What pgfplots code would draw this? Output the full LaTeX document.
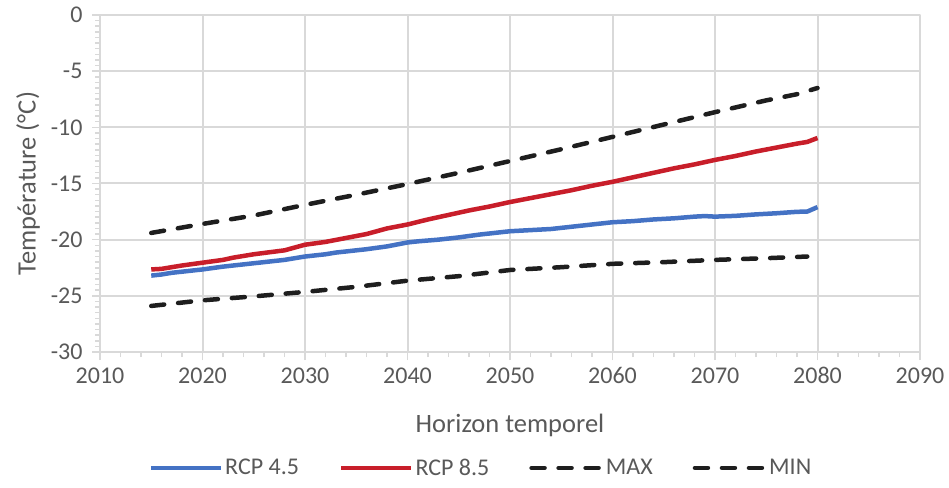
\documentclass[border=0pt]{standalone}
\usepackage{pgfplots}
\pgfplotsset{compat=1.18}
\usepackage{fontspec}
\setmainfont{Carlito}
\definecolor{txtgray}{RGB}{89,89,89}
\definecolor{gridgray}{RGB}{217,217,217}
\definecolor{rcpblue}{RGB}{68,114,196}
\definecolor{rcpred}{RGB}{200,30,42}
\definecolor{blk}{RGB}{30,30,30}

\begin{document}
\begin{tikzpicture}
  \path[use as bounding box] (0,0) rectangle (949pt,487pt);
  \begin{axis}[
      at={(100pt,135pt)}, anchor=south west,
      width=820pt, height=337pt, scale only axis,
      xmin=2010, xmax=2090, ymin=-30, ymax=0,
      xtick distance=10, ytick distance=5,
      minor x tick num=4, minor y tick num=9,
      tick align=outside,
      major tick length=8pt, minor tick length=5pt,
      every tick/.style={gridgray, line width=1.5pt},
      xtick pos=bottom, ytick pos=left,
      grid=major,
      major grid style={gridgray, line width=2pt},
      axis line style={gridgray, line width=2pt},
      /pgf/number format/assume math mode=true,
      /pgf/number format/1000 sep={},
      ticklabel style={font=\fontsize{24}{28}\selectfont, text=txtgray},
      xticklabel style={yshift=-4pt},
      yticklabel style={xshift=-6pt},
      xlabel={Horizon temporel},
      ylabel={Température (°C)},
      label style={font=\fontsize{26.5}{30}\selectfont, text=txtgray},
      xlabel style={at={(axis description cs:0.5,-0.2166)}, anchor=center},
      ylabel style={at={(axis description cs:-0.0878,0.5)}, anchor=center},
      legend columns=4,
      legend style={at={(axis description cs:0.4646,-0.344)}, anchor=center,
        draw=none, fill=none,
        font=\fontsize{24}{28}\selectfont, text=txtgray,
        /tikz/every even column/.append style={column sep=38pt}},
      legend image code/.code={\draw[#1] (0pt,0pt) -- (70pt,0pt);},
      line join=round,
    ]
    \addplot[rcpblue, line width=4.5pt] coordinates {
      (2015,-23.2) (2016,-23.1) (2017,-22.95) (2018,-22.85) (2019,-22.75)
      (2020,-22.65) (2022,-22.4) (2024,-22.2) (2026,-22.0) (2028,-21.8)
      (2030,-21.5) (2032,-21.3) (2033,-21.15) (2035,-20.95) (2036,-20.85)
      (2038,-20.6) (2040,-20.25) (2041,-20.15) (2043,-20.0) (2045,-19.8)
      (2047,-19.55) (2050,-19.25) (2052,-19.15) (2054,-19.05) (2056,-18.85)
      (2058,-18.65) (2060,-18.45) (2062,-18.35) (2064,-18.2) (2066,-18.1)
      (2068,-17.95) (2069,-17.9) (2070,-17.95) (2072,-17.88) (2074,-17.75)
      (2076,-17.65) (2078,-17.52) (2079,-17.5) (2080,-17.1)
    };
    \addlegendentry{RCP 4.5}
    \addplot[rcpred, line width=4.5pt] coordinates {
      (2015,-22.65) (2016,-22.6) (2017,-22.45) (2018,-22.3) (2020,-22.05)
      (2022,-21.8) (2023,-21.6) (2025,-21.3) (2028,-20.95) (2030,-20.45)
      (2032,-20.2) (2034,-19.85) (2036,-19.5) (2038,-19.0) (2040,-18.65)
      (2042,-18.2) (2044,-17.8) (2046,-17.4) (2048,-17.05) (2050,-16.65)
      (2052,-16.3) (2054,-15.95) (2056,-15.6) (2058,-15.2) (2060,-14.85)
      (2062,-14.45) (2064,-14.05) (2066,-13.65) (2068,-13.3) (2070,-12.9)
      (2072,-12.55) (2074,-12.15) (2076,-11.8) (2078,-11.45) (2079,-11.3)
      (2080,-10.95)
    };
    \addlegendentry{RCP 8.5}
    \addplot[blk, line width=4.5pt, line cap=round, dash pattern=on 13pt off 14pt] coordinates {
      (2015,-19.4) (2020,-18.6) (2025,-17.85) (2030,-16.9) (2035,-16.0)
      (2040,-15.05) (2045,-14.05) (2050,-13.0) (2055,-11.95) (2060,-10.85)
      (2065,-9.75) (2070,-8.65) (2075,-7.6) (2078,-7.05) (2080,-6.5)
    };
    \addlegendentry{MAX}
    \addplot[blk, line width=4.5pt, line cap=round, dash pattern=on 13pt off 14pt] coordinates {
      (2015,-25.9) (2020,-25.4) (2025,-25.05) (2030,-24.65) (2035,-24.2)
      (2040,-23.65) (2045,-23.25) (2050,-22.7) (2055,-22.45) (2060,-22.15)
      (2065,-22.0) (2070,-21.8) (2075,-21.65) (2079,-21.5)
    };
    \addlegendentry{MIN}
  \end{axis}
\end{tikzpicture}
\end{document}
